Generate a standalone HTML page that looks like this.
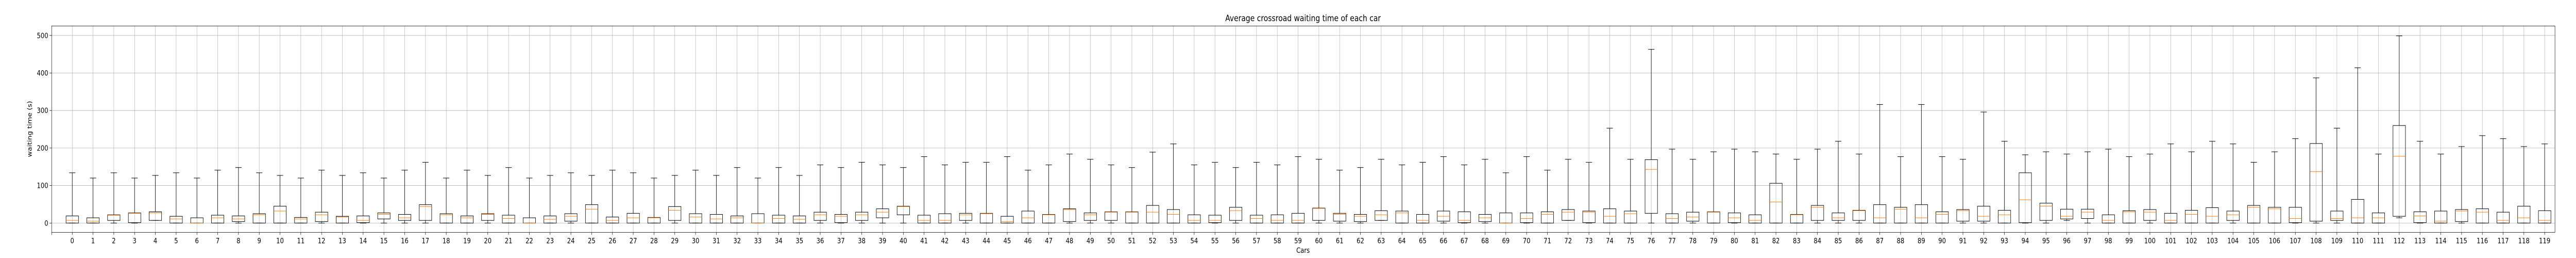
<!DOCTYPE html>
<html>
<head>
<meta charset="utf-8">
<meta name="viewport" content="width=6000, initial-scale=1">
<style>
  html,body{margin:0;padding:0;background:#fff;overflow:hidden;width:100%;height:100%;}
  svg{display:block;width:100vw;height:100vh;font-family:"DejaVu Sans","Liberation Sans",sans-serif;}
</style>
</head>
<body>
<svg id="chart" viewBox="0 0 6000 500" preserveAspectRatio="none" xmlns="http://www.w3.org/2000/svg">
  <rect x="0" y="0" width="6000" height="500" fill="#fff"/>
  <g id="grid"></g>
  <g id="boxes"></g>
  <g id="axes"></g>
  <text x="3035" y="41" font-size="16.7" text-anchor="middle" fill="#000">Average crossroad waiting time of each car</text>
  <text x="3035" y="490" font-size="13.9" text-anchor="middle" fill="#000">Cars</text>
  <text x="0" y="0" font-size="13.9" text-anchor="middle" fill="#000" transform="translate(74,250) rotate(-90)">waiting time (s)</text>
</svg>
<script>
const categories = Array.from({length:120}, (_, i) => String(i));
const whiskerLow = [0,0,0,0,7,0,0,0,0,0,0,0,0,0,0,0,0,0,0,0,0,0,0,0,0,0,0,0,0,0,0,0,0,0,0,0,0,0,0,0,0,0,0,0,0,0,0,0,0,0,0,0,0,0,0,0,0,0,0,0,0,0,0,7,0,0,0,0,0,0,0,0,7,0,0,0,0,0,0,0,0,0,0,0,0,0,0,0,0,0,0,0,0,0,0,0,7,0,0,0,0,0,0,0,0,0,0,0,0,0,0,0,14,0,0,0,0,0,0,0];
const q1 = [0,0,7,1,7,0,0,0,4,0,0,0,4,0,1,11,7,7,0,0,7,0,0,0,5,0,0,0,0,7,0,0,0,0,0,0,7,1,7,14,22,0,0,7,0,0,0,0,4,7,7,0,0,0,0,1,7,0,0,0,7,5,4,7,0,0,5,1,4,0,1,0,7,1,0,0,26,0,5,0,1,0,0,0,7,7,7,0,0,0,0,5,5,0,1,7,11,12,0,0,7,0,0,0,7,0,0,1,5,7,0,0,18,1,0,4,0,0,0,0];
const medians = [7,5,21,26,27,11,0,14,11,22,32,11,22,16,7,23,14,44,22,14,23,12,0,10,18,37,7,14,14,34,16,11,14,0,12,10,22,18,22,29,44,7,7,22,25,4,14,22,36,22,29,29,29,23,7,7,33,12,7,7,39,23,18,22,27,7,18,7,14,0,12,23,29,29,18,25,143,12,16,29,14,7,56,22,42,14,33,14,37,14,23,33,18,22,62,45,18,29,7,30,29,7,23,18,22,42,38,12,137,12,14,14,178,19,5,32,29,7,14,7];
const q3 = [19,14,22,27,30,18,14,21,19,25,45,15,29,18,19,27,23,49,25,19,25,21,14,19,25,49,16,26,15,44,25,23,19,25,21,19,29,23,29,38,45,21,25,26,26,18,32,23,38,27,30,30,47,36,22,21,42,21,22,26,40,26,23,33,32,23,32,30,23,27,27,30,36,32,38,32,169,25,29,30,27,22,106,23,47,27,34,49,42,49,30,36,45,34,134,53,37,37,22,33,36,26,34,41,32,47,42,42,212,32,63,27,260,30,32,36,38,29,45,33];
const whiskerHigh = [134,120,134,120,127,134,120,141,148,134,127,120,141,127,134,120,141,162,120,141,127,148,120,127,134,127,141,134,120,127,141,127,148,120,148,127,155,148,162,155,148,177,155,162,162,177,141,155,184,170,155,148,189,211,155,162,148,162,155,177,170,141,148,170,155,162,177,155,170,134,177,141,170,162,253,170,463,197,170,190,197,190,184,170,197,218,184,316,177,316,177,170,296,218,182,190,184,190,197,177,184,211,190,218,211,162,190,225,387,253,414,184,499,218,184,204,233,225,204,211];
const yTicks = [0,100,200,300,400,500];

const NS = 'http://www.w3.org/2000/svg';
const L = 120.3, R = 5951, T = 50.3, B = 450.3;
const yMin = -24.8, yMax = 525.4;
const xFirst = 168.3, xStep = (5927 - 168.3) / 119;
function xScale(i){ return xFirst + i * xStep; }
function yScale(v){ return B - (v - yMin) / (yMax - yMin) * (B - T); }
function mk(tag, attrs, parent){
  const e = document.createElementNS(NS, tag);
  for (const k in attrs) e.setAttribute(k, attrs[k]);
  parent.appendChild(e);
  return e;
}
const grid = document.getElementById('grid');
const boxes = document.getElementById('boxes');
const axes = document.getElementById('axes');

yTicks.forEach(v => {
  const y = yScale(v);
  const g = mk('line', {x1:L, x2:R, y1:y, y2:y, stroke:'#b0b0b0', 'stroke-width':0.8}, grid);
  
  
});
categories.forEach((c, i) => {
  const x = xScale(i);
  const g = mk('line', {x1:x, x2:x, y1:T, y2:B, stroke:'#b0b0b0', 'stroke-width':0.8}, grid);
  
  
});

const boxW = 29, capW = 14.5;
categories.forEach((c, i) => {
  const x = xScale(i);
  const g = mk('g', {}, boxes);
  
  
  const yLo = yScale(whiskerLow[i]), yQ1 = yScale(q1[i]), yMed = yScale(medians[i]), yQ3 = yScale(q3[i]), yHi = yScale(whiskerHigh[i]);
  mk('line', {x1:x, x2:x, y1:yQ3, y2:yHi, stroke:'#000', 'stroke-width':1}, g);
  mk('line', {x1:x, x2:x, y1:yQ1, y2:yLo, stroke:'#000', 'stroke-width':1}, g);
  mk('line', {x1:x-capW/2, x2:x+capW/2, y1:yHi, y2:yHi, stroke:'#000', 'stroke-width':1}, g);
  mk('line', {x1:x-capW/2, x2:x+capW/2, y1:yLo, y2:yLo, stroke:'#000', 'stroke-width':1}, g);
  mk('rect', {x:x-boxW/2, y:yQ3, width:boxW, height:Math.max(yQ1-yQ3,0), fill:'none', stroke:'#000', 'stroke-width':1}, g);
  mk('line', {x1:x-boxW/2, x2:x+boxW/2, y1:yMed, y2:yMed, stroke:'#ff7f0e', 'stroke-width':1}, g);
});

const frame = mk('rect', {x:L, y:T, width:R-L, height:B-T, fill:'none', stroke:'#000', 'stroke-width':0.8}, axes);



yTicks.forEach(v => {
  const y = yScale(v);
  mk('line', {x1:L-4.9, x2:L, y1:y, y2:y, stroke:'#000', 'stroke-width':0.8}, axes);
  const t = mk('text', {x:L-8, y:y+5, 'font-size':13.9, 'text-anchor':'end', fill:'#000'}, axes);
  t.textContent = String(v);
  
  
});
mk('line', {x1:L, x2:L, y1:B, y2:B+4.9, stroke:'#000', 'stroke-width':0.8}, axes);
categories.forEach((c, i) => {
  const x = xScale(i);
  mk('line', {x1:x, x2:x, y1:B, y2:B+4.9, stroke:'#000', 'stroke-width':0.8}, axes);
  const t = mk('text', {x:x, y:B+21, 'font-size':13.9, 'text-anchor':'middle', fill:'#000'}, axes);
  t.textContent = c;
  
  
});
</script>
</body>
</html>
